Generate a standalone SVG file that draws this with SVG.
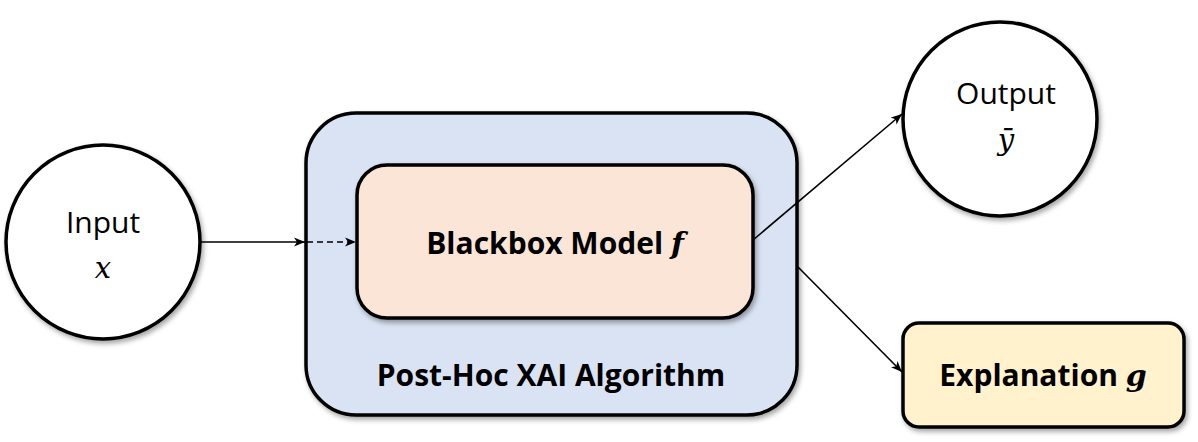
<svg xmlns="http://www.w3.org/2000/svg" width="1198" height="442" viewBox="0 0 1198 442">
<style>
.node{stroke:#000;stroke-width:3.5}
.lbl{font-family:"Open Sans","Liberation Sans",sans-serif;fill:#000;text-anchor:middle}
.b{font-weight:bold}
.m{font-family:"DejaVu Serif","Liberation Serif",serif;font-style:italic}
.conn{stroke:#000;stroke-width:1.6;fill:none}
</style>
<defs>
<filter id="sh" x="-20%" y="-20%" width="140%" height="140%">
<feDropShadow dx="2" dy="3" stdDeviation="2.5" flood-color="#000" flood-opacity="0.35"/>
</filter>
<marker id="ah" viewBox="0 0 12 10" refX="11" refY="5" markerWidth="12" markerHeight="10" markerUnits="userSpaceOnUse" orient="auto">
<path d="M0,0.5 L11,5 L0,9.5 L3,5 Z" fill="#000"/>
</marker>
</defs>
<g id="input">
<circle class="node" cx="103" cy="242" r="97" fill="#fff" filter="url(#sh)"/>
<text class="lbl" x="103" y="233" font-size="30">Input</text>
<text class="m lbl" x="103" y="278" font-size="29">x</text>
</g>
<g id="posthoc">
<rect class="node" x="306" y="113" width="491" height="302" rx="50" fill="#DAE3F3" filter="url(#sh)"/>
<text class="lbl b" x="551" y="386" font-size="30">Post-Hoc XAI Algorithm</text>
</g>
<g id="blackbox">
<rect class="node" x="357" y="165" width="396" height="153" rx="30" fill="#FBE5D6" filter="url(#sh)"/>
<text class="lbl b" x="555" y="254" font-size="30">Blackbox Model <tspan class="m" font-weight="bold">f</tspan></text>
</g>
<g id="output">
<circle class="node" cx="1000" cy="119" r="97" fill="#fff" filter="url(#sh)"/>
<text class="lbl" x="1006" y="104" font-size="30">Output</text>
<text class="m lbl" x="1006" y="150" font-size="29">ȳ</text>
</g>
<g id="explanation">
<rect class="node" x="903" y="323" width="281" height="104" rx="16" fill="#FFF2CC" filter="url(#sh)"/>
<text class="lbl b" x="1043" y="386" font-size="30">Explanation <tspan class="m" font-weight="bold">g</tspan></text>
</g>
<g id="connectors">
<line class="conn" x1="201" y1="242" x2="305" y2="242" marker-end="url(#ah)"/>
<line class="conn" x1="307" y1="242" x2="356" y2="242" stroke-dasharray="6,4" stroke-width="2" marker-end="url(#ah)"/>
<line class="conn" x1="753" y1="240" x2="902" y2="114" marker-end="url(#ah)"/>
<line class="conn" x1="798" y1="267" x2="902" y2="372" marker-end="url(#ah)"/>
</g>
</svg>
